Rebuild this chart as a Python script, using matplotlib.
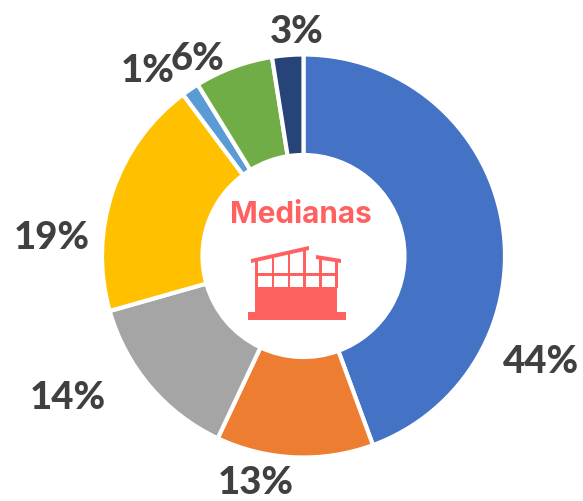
import matplotlib
matplotlib.use('Agg')
import matplotlib.pyplot as plt
from matplotlib.patches import Polygon, Rectangle

# share of each slice, clockwise from 12 o'clock (labels are rounded)
values = [44.4, 12.6, 13.6, 19.2, 1.4, 6.3, 2.5]
labels = ['44%', '13%', '14%', '19%', '1%', '6%', '3%']
colors = ['#4472C4', '#ED7D31', '#A5A5A5', '#FFC000', '#5B9BD5', '#70AD47', '#264478']
label_pos = [(541, 362), (256, 483), (68, 398), (52, 238), (148, 71), (198, 59), (297, 32)]

W, H = 583, 501
fig = plt.figure(figsize=(W / 100, H / 100), dpi=100)
ax = fig.add_axes([0, 0, 1, 1])

# y axis is flipped, so counterclock=True in data coords runs clockwise on screen
ax.pie(values, colors=colors, startangle=-90, counterclock=True, radius=201.5, center=(303.5, 256),
       wedgeprops=dict(width=100.5, edgecolor='white', linewidth=3), frame=False)
ax.set_xlim(0, W)
ax.set_ylim(H, 0)
ax.set_aspect('equal')
ax.axis('off')

for lab, (x, y) in zip(labels, label_pos):
    ax.text(x, y, lab, ha='center', va='center', fontsize=27.5, fontweight='black',
            color='#404040', family=['Lato', 'DejaVu Sans'])

red = '#FF6161'
ax.text(300.5, 215, 'Medianas', ha='center', va='center', fontsize=21.4, fontweight='bold',
        color=red, family='Inter')

# little factory icon
ax.add_patch(Rectangle((248, 312), 98, 8, color=red, lw=0))
ax.add_patch(Rectangle((255, 287), 82, 25, color=red, lw=0))
ax.add_patch(Polygon([(251, 259), (309, 246), (309, 250), (251, 263)], color=red, lw=0))
ax.add_patch(Polygon([(316, 255), (341, 259), (341, 263), (316, 259)], color=red, lw=0))
for x, top in [(255, 260), (271.5, 257), (287.5, 253), (303, 249), (319, 257), (335, 260)]:
    ax.add_patch(Rectangle((x, top), 2.7, 288 - top, color=red, lw=0))
ax.add_patch(Rectangle((255, 273), 82, 3, color=red, lw=0))

fig.savefig('out.png', dpi=100)
plt.close(fig)
